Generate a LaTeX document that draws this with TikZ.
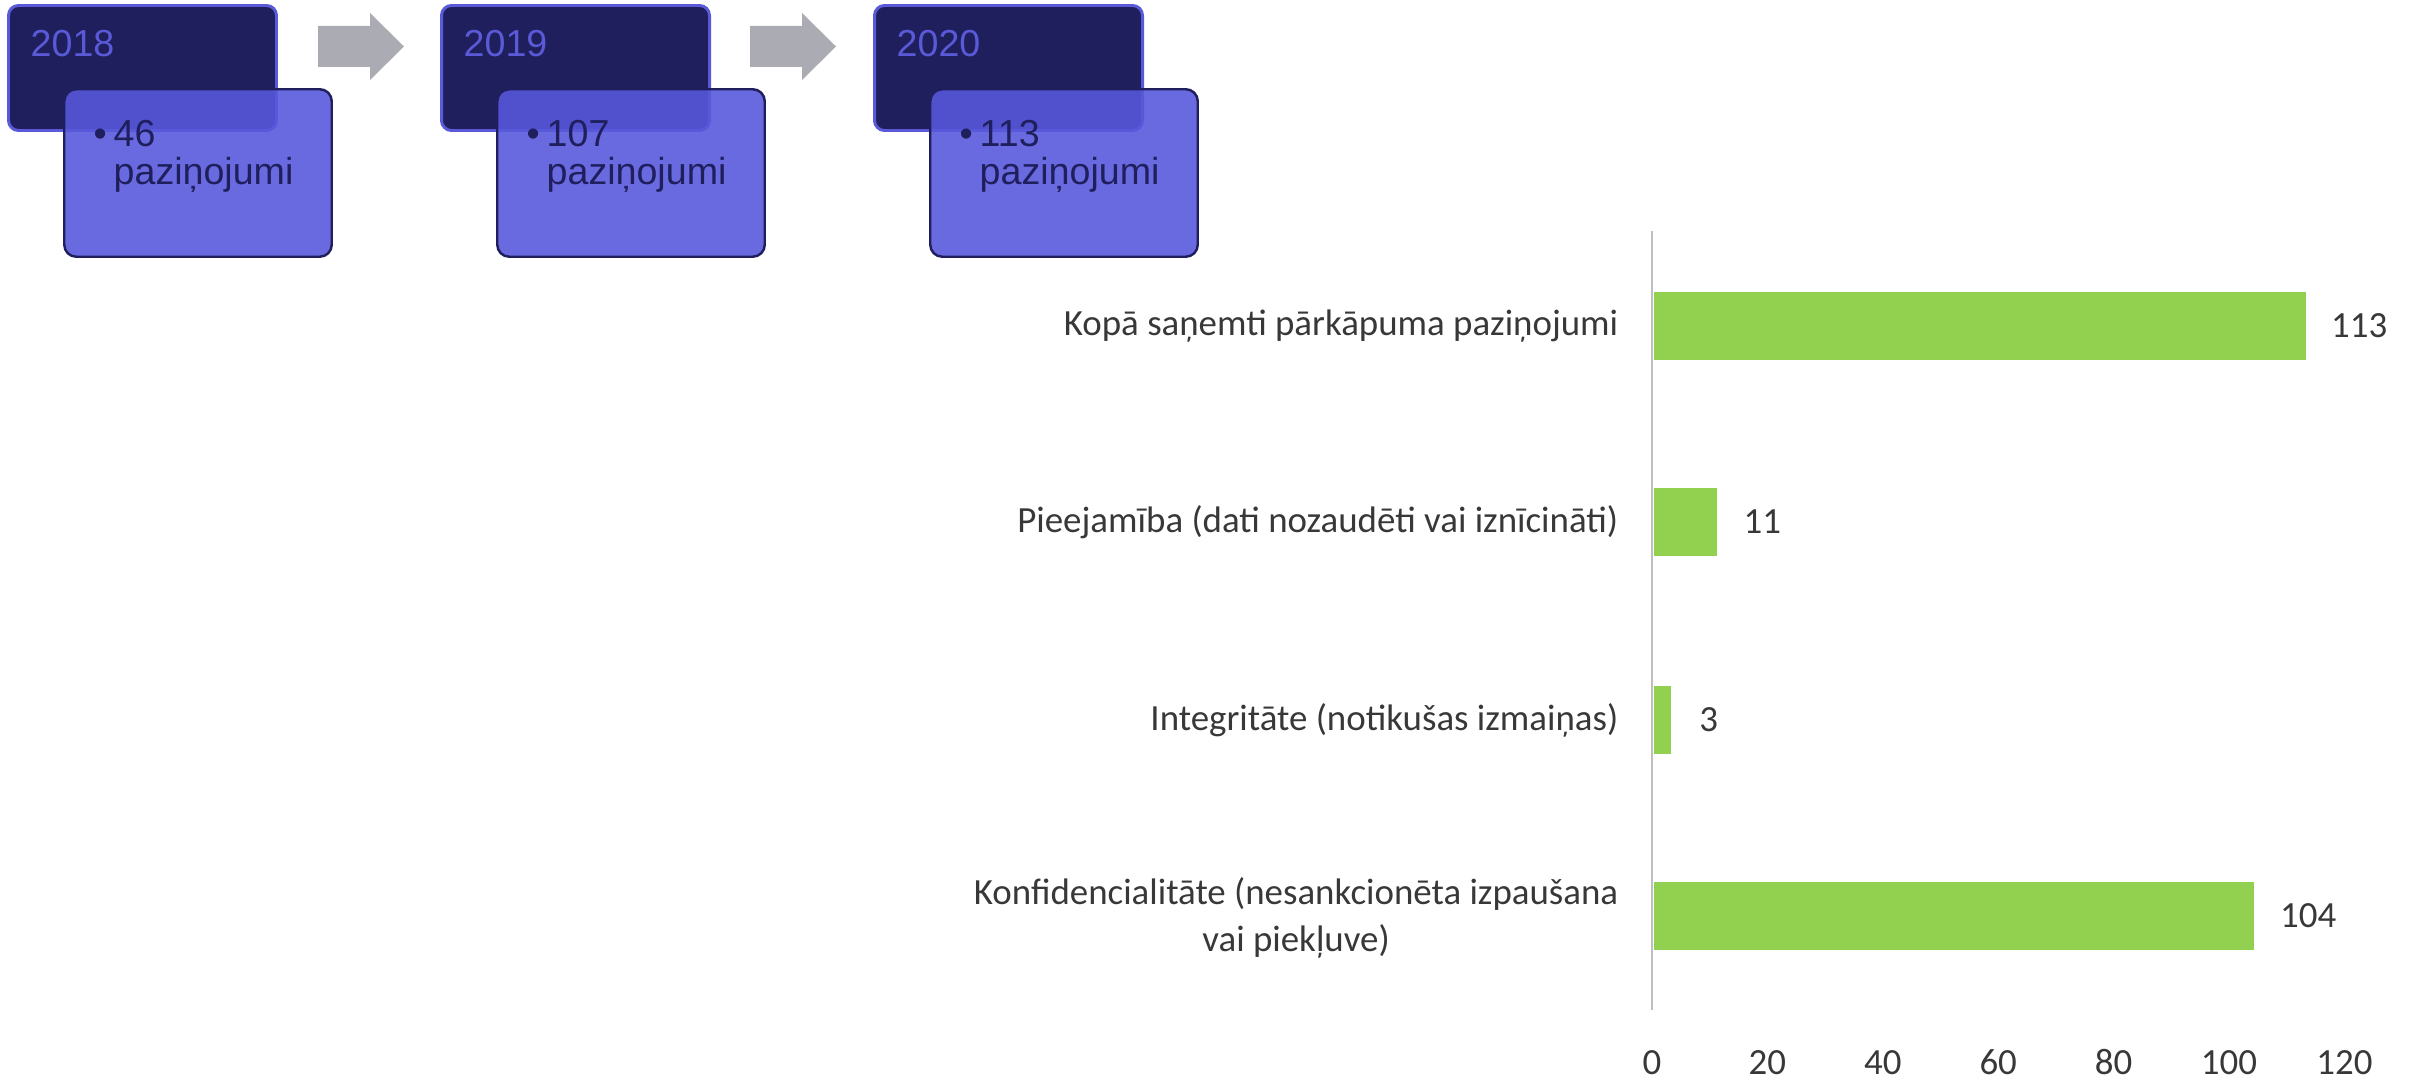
\documentclass[tikz,border=0pt]{standalone}
\usepackage{fontspec}
\setmainfont{Liberation Sans}
\newfontfamily\chartfont{Carlito}
\usetikzlibrary{positioning}
\definecolor{navy}{HTML}{1F1F5E}
\definecolor{violetline}{HTML}{5A5AD8}
\definecolor{notefill}{HTML}{5858DC}
\definecolor{arrowgray}{HTML}{ABABB3}
\definecolor{bargreen}{HTML}{92D050}
\definecolor{axisgray}{HTML}{BFBFBF}
\definecolor{chartgray}{HTML}{383838}
\tikzset{
    yearbox/.style = {rectangle, rounded corners=1mm, draw=violetline, line width=0.85pt, fill=navy, minimum width=26.8mm, minimum height=12.5mm, inner sep=0pt},
    notebox/.style = {rectangle, rounded corners=1.2mm, draw=navy, line width=0.7pt, fill=notefill, fill opacity=0.89, minimum width=26.75mm, minimum height=16.75mm, inner sep=0pt},
    yeartext/.style = {anchor=base west, inner sep=0pt, text=violetline, font=\fontsize{10.7}{12.8}\selectfont},
    notetext/.style = {anchor=base west, inner sep=0pt, text=navy, font=\fontsize{10.7}{12.8}\selectfont},
    flowarrow/.style = {fill=arrowgray},
    barn/.style = {rectangle, anchor=west, fill=bargreen, minimum height=6.8mm, inner sep=0pt},
    catlabel/.style = {anchor=east, inner sep=0pt, align=center, text=chartgray, font=\chartfont\fontsize{10.5}{13.5}\selectfont},
    vallabel/.style = {anchor=west, inner sep=0pt, text=chartgray, font=\chartfont\fontsize{10.5}{13.5}\selectfont},
    ticklabel/.style = {anchor=base, inner sep=0pt, text=chartgray, font=\chartfont\fontsize{10.5}{13.5}\selectfont},
    axisline/.style = {draw=axisgray, line width=0.7pt}
}

\begin{document}
\begin{tikzpicture}[x=0.1mm,y=-0.1mm]
\path[use as bounding box] (0,0) rectangle (2417,1082);
%
% years
\node[yearbox] at (142.5,68) (y18) {};
\node[notebox] at (198,173) (n18) {};
\node[yeartext] at (30,57) (t18) {2018};
\node[notetext] at (93,147) (d18) {•};
\node[notetext] at (113,147) (c18) {46};
\node[notetext] at (113,185) (w18) {paziņojumi};
%
\node[yearbox] at (575.5,68) (y19) {};
\node[notebox] at (631,173) (n19) {};
\node[yeartext] at (463,57) (t19) {2019};
\node[notetext] at (526,147) (d19) {•};
\node[notetext] at (546,147) (c19) {107};
\node[notetext] at (546,185) (w19) {paziņojumi};
%
\node[yearbox] at (1008.5,68) (y20) {};
\node[notebox] at (1064,173) (n20) {};
\node[yeartext] at (896,57) (t20) {2020};
\node[notetext] at (959,147) (d20) {•};
\node[notetext] at (979,147) (c20) {113};
\node[notetext] at (979,185) (w20) {paziņojumi};
%
\fill[flowarrow] (318,26) -- (370,26) -- (370,13) -- (404,46.5) -- (370,80) -- (370,67) -- (318,67) -- cycle;
\fill[flowarrow] (750,26) -- (802,26) -- (802,13) -- (836,46.5) -- (802,80) -- (802,67) -- (750,67) -- cycle;
%
% chart
\coordinate (axtop) at (1652,231);
\coordinate (axbot) at (1652,1010);
\draw[axisline] (axtop) -- (axbot);
%
\node[barn, minimum width=65.2mm] at (1653,326) (b1) {};
\node[barn, minimum width=6.35mm] at (1653,522) (b2) {};
\node[barn, minimum width=1.73mm] at (1653,720) (b3) {};
\node[barn, minimum width=60.0mm] at (1653,916) (b4) {};
%
\node[vallabel, right=2.4mm of b1] (v1) {113};
\node[vallabel, right=2.5mm of b2] (v2) {11};
\node[vallabel, right=2.7mm of b3] (v3) {3};
\node[vallabel, right=2.5mm of b4] (v4) {104};
%
\node[catlabel] at (1619,326) (l1) {Kopā saņemti pārkāpuma paziņojumi};
\node[catlabel] at (1619,522) (l2) {Pieejamība (dati nozaudēti vai iznīcināti)};
\node[catlabel] at (1619,720) (l3) {Integritāte (notikušas izmaiņas)};
\node[catlabel] at (1619,918) (l4) {Konfidencialitāte (nesankcionēta izpaušana\\vai piekļuve)};
%
\node[ticklabel] at (1652,1074) (k0) {0};
\node[ticklabel] at (1767.4,1074) (k20) {20};
\node[ticklabel] at (1882.8,1074) (k40) {40};
\node[ticklabel] at (1998.2,1074) (k60) {60};
\node[ticklabel] at (2113.6,1074) (k80) {80};
\node[ticklabel] at (2229,1074) (k100) {100};
\node[ticklabel] at (2344.4,1074) (k120) {120};

\end{tikzpicture}
\end{document}
